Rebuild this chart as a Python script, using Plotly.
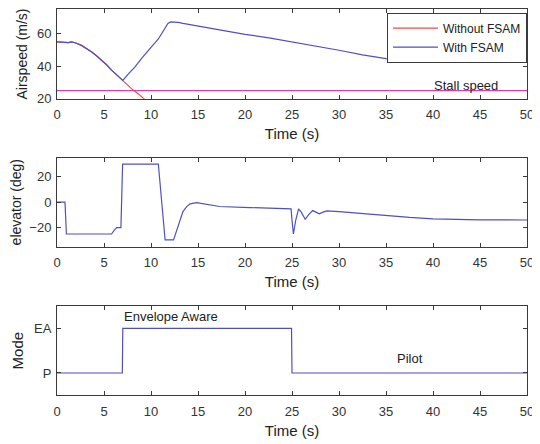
import plotly.graph_objects as go

# ---------------- data ----------------
# Airspeed (m/s)
t_with = [0, 0.5, 0.85, 1.2, 1.56, 2.0, 2.6, 3.1, 3.7, 4.2, 4.75, 5.3, 5.8, 6.4, 7.0,
          7.6, 8.3, 9.0, 9.7, 10.3, 10.8, 11.2, 11.5, 11.8, 12.1, 12.5, 12.9, 13.4,
          15.0, 17.5, 20.0, 22.7, 25.0, 26.5, 28.0, 30.0, 32.5, 35.0, 37.5, 40.0, 45.0, 50.0]
v_with = [55.0, 54.7, 54.4, 54.5, 55.0, 54.3, 52.8, 51.0, 48.7, 46.4, 43.7, 40.7, 37.6, 34.3, 31.2,
          35.3, 39.6, 44.8, 49.8, 53.6, 56.9, 60.5, 64.0, 66.3, 67.2, 67.3, 67.0, 66.3,
          64.6, 62.0, 59.6, 57.3, 55.0, 53.7, 52.0, 49.8, 47.0, 44.7, 43.5, 43.0, 42.6, 42.6]

t_without = [0, 0.5, 0.85, 1.2, 1.56, 2.0, 2.6, 3.1, 3.7, 4.2, 4.75, 5.3, 5.8, 6.4, 7.0,
             7.6, 8.1, 8.7, 9.2, 9.8, 10.5]
v_without = [55.0, 54.7, 54.4, 54.5, 55.0, 54.3, 52.8, 51.0, 48.7, 46.4, 43.7, 40.7, 37.6, 34.3, 31.2,
             28.0, 25.3, 22.8, 20.2, 17.0, 13.5]

stall_t = [0, 50]
stall_v = [25, 25]

# Elevator (deg)
t_elev = [0, 0.85, 1.0, 5.8, 6.1, 6.35, 6.8, 6.98, 10.78, 11.0, 11.25, 11.5, 12.4, 12.6, 12.9, 13.15,
          13.4, 13.8, 14.15, 14.86, 15.9, 17.3, 20.5, 22.7, 24.9, 25.0, 25.15, 25.4, 25.7, 26.0,
          26.4, 26.8, 27.2, 27.6, 27.9, 28.3, 28.7, 30.0, 32.5, 35.0, 37.5, 40.0, 45.0, 50.0]
v_elev = [0, 0, -25, -25, -22, -20, -20, 30, 30, 12, -14, -29.6, -29.6, -25, -17.8, -11.5,
          -7.4, -3.5, -1.3, -0.3, -1.6, -3.4, -4.2, -5.0, -5.3, -14, -25, -14, -5.3, -8.0,
          -13.4, -9.5, -6.6, -8.0, -9.2, -7.8, -6.8, -7.4, -9.0, -10.7, -12.0, -13.1, -13.9, -14.0]

# Mode (0 = P, 1 = EA)
t_mode = [0, 6.95, 7.0, 24.95, 25.0, 50]
v_mode = [0, 0, 1, 1, 0, 0]
mode_tickvals = [0, 1]
mode_ticktext = ["P", "EA"]

time_ticks = [0, 5, 10, 15, 20, 25, 30, 35, 40, 45, 50]

# ---------------- figure ----------------
RED = "#f24a4a"
BLUE = "#4f4fc4"
MAG = "#d63fae"
FONT = "Liberation Sans, Arial, sans-serif"
TXT = "#222222"

fig = go.Figure()
fig.add_trace(go.Scatter(x=stall_t, y=stall_v, mode="lines", line=dict(color=MAG, width=1.2),
                         showlegend=False, xaxis="x", yaxis="y", hoverinfo="skip"))
fig.add_trace(go.Scatter(x=t_without, y=v_without, mode="lines", name="Without FSAM",
                         line=dict(color=RED, width=1.2), xaxis="x", yaxis="y"))
fig.add_trace(go.Scatter(x=t_with, y=v_with, mode="lines", name="With FSAM",
                         line=dict(color=BLUE, width=1.2), xaxis="x", yaxis="y"))
fig.add_trace(go.Scatter(x=t_elev, y=v_elev, mode="lines", showlegend=False,
                         line=dict(color=BLUE, width=1.2), xaxis="x2", yaxis="y2"))
fig.add_trace(go.Scatter(x=t_mode, y=v_mode, mode="lines", showlegend=False,
                         line=dict(color=BLUE, width=1.2), xaxis="x3", yaxis="y3"))

# The page body adds an 8px margin; compensate so the photographed layout matches.
OFF = 8
W, H = 540 - OFF, 444 - OFF
xdom = [(57 - OFF) / W, (527 - OFF) / W]

def ydom(top, bot):
    return [1 - (bot - OFF) / H, 1 - (top - OFF) / H]

axis_common = dict(showline=True, linecolor="#3a3a3a", linewidth=1, mirror="ticks",
                   ticks="inside", ticklen=4, tickcolor="#3a3a3a", showgrid=False,
                   zeroline=False, automargin=False,
                   tickfont=dict(family=FONT, size=13, color="#333333"))

def xaxis(anchor):
    return dict(domain=xdom, range=[0, 50], tickvals=time_ticks, anchor=anchor,
                ticklabelstandoff=4,
                title=dict(text="Time (s)", font=dict(family=FONT, size=15, color=TXT),
                           standoff=7),
                **axis_common)

fig.update_layout(
    width=W, height=H,
    margin=dict(l=0, r=0, t=0, b=0),
    paper_bgcolor="white", plot_bgcolor="white",
    font=dict(family=FONT, size=13, color=TXT),
    xaxis=xaxis("y"),
    xaxis2=xaxis("y2"),
    xaxis3=xaxis("y3"),
    yaxis=dict(domain=ydom(9.3, 98.7), range=[20, 75], tickvals=[20, 40, 60], anchor="x",
               ticklabelstandoff=2,
               title=dict(text="Airspeed (m/s)", font=dict(family=FONT, size=14, color=TXT),
                          standoff=6),
               **axis_common),
    yaxis2=dict(domain=ydom(157.7, 246.7), range=[-35, 35], tickvals=[-20, 0, 20], anchor="x2",
                ticklabelstandoff=2,
                title=dict(text="elevator (deg)", font=dict(family=FONT, size=14, color=TXT),
                           standoff=6),
                **axis_common),
    yaxis3=dict(domain=ydom(306, 395.3), range=[-0.5, 1.5], tickvals=mode_tickvals,
                ticktext=mode_ticktext, anchor="x3", ticklabelstandoff=2,
                title=dict(text="Mode", font=dict(family=FONT, size=15, color=TXT),
                           standoff=6),
                **axis_common),
    legend=dict(x=(527 - OFF) / W, xanchor="right", y=1 - (12.7 - OFF) / H, yanchor="top",
                bgcolor="white", bordercolor="#3a3a3a", borderwidth=1,
                font=dict(family=FONT, size=12, color=TXT),
                tracegroupgap=0, itemwidth=45),
    annotations=[
        dict(x=43.5, y=28.4, xref="x", yref="y", text="Stall speed", showarrow=False,
             font=dict(family=FONT, size=13, color=TXT)),
        dict(x=12.1, y=1.26, xref="x3", yref="y3", text="Envelope Aware", showarrow=False,
             font=dict(family=FONT, size=13, color=TXT)),
        dict(x=37.55, y=0.32, xref="x3", yref="y3", text="Pilot", showarrow=False,
             font=dict(family=FONT, size=13, color=TXT)),
    ],
)

fig.write_html("out.html")
